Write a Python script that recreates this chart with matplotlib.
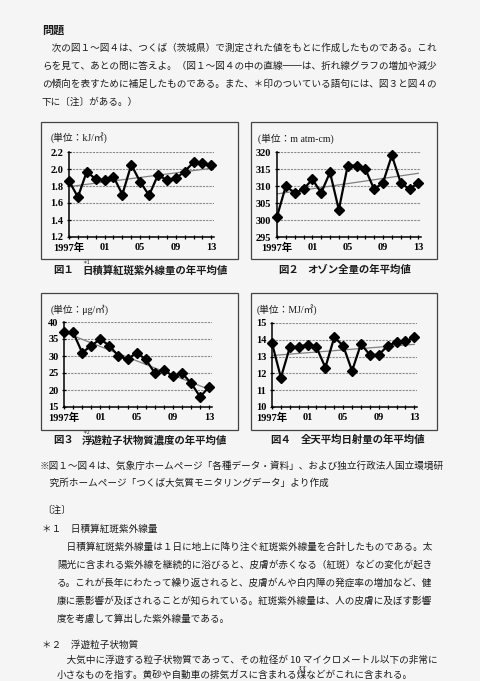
import numpy as np
import matplotlib
matplotlib.use("Agg")
import matplotlib.pyplot as plt
from matplotlib.patches import Rectangle

W, H = 480, 681
JP = ['Noto Sans CJK JP', 'DejaVu Sans']
SERIF = ['Liberation Serif', 'Noto Sans CJK JP']

years = list(range(1997, 2014))
year_labels = ['1997年', '01', '05', '09', '13']

# fig 1: erythemal UV (kJ/m2)
uv = [1.86, 1.67, 1.97, 1.88, 1.87, 1.91, 1.70, 2.05, 1.85, 1.69,
      1.93, 1.87, 1.89, 1.97, 2.08, 2.07, 2.05]
# fig 2: total ozone (m atm-cm)
ozone = [301, 310, 308, 309, 312, 308, 314, 303, 316, 316,
         315, 309, 311, 319, 311, 309, 311]
# fig 3: suspended particulate matter (ug/m3)
spm = [37, 37, 31, 33, 35, 33, 30, 29, 31, 29,
       25, 26, 24, 25, 22, 18, 21]
# fig 4: global solar radiation (MJ/m2)
solar = [13.8, 11.75, 13.55, 13.6, 13.7, 13.55, 12.35, 14.15, 13.65, 12.15,
         13.75, 13.1, 13.1, 13.65, 13.85, 13.9, 14.15]

intro = [
    '　次の図１～図４は、つくば（茨城県）で測定された値をもとに作成したものである。これ',
    'らを見て、あとの問に答えよ。（図１～図４の中の直線──は、折れ線グラフの増加や減少',
    'の傾向を表すために補足したものである。また、＊印のついている語句には、図３と図４の',
    '下に〔注〕がある。）',
]
source = [
    '※図１～図４は、気象庁ホームページ「各種データ・資料」、および独立行政法人国立環境研',
    '　究所ホームページ「つくば大気質モニタリングデータ」より作成',
]
note1 = [
    '　日積算紅斑紫外線量は１日に地上に降り注ぐ紅斑紫外線量を合計したものである。太',
    '陽光に含まれる紫外線を継続的に浴びると、皮膚が赤くなる（紅斑）などの変化が起き',
    'る。これが長年にわたって繰り返されると、皮膚がんや白内障の発症率の増加など、健',
    '康に悪影響が及ぼされることが知られている。紅斑紫外線量は、人の皮膚に及ぼす影響',
    '度を考慮して算出した紫外線量である。',
]
note2 = [
    '　大気中に浮遊する粒子状物質であって、その粒径が 10 マイクロメートル以下の非常に',
    '小さなものを指す。黄砂や自動車の排気ガスに含まれる煤などがこれに含まれる。',
]

fig = plt.figure(figsize=(W / 100, H / 100), dpi=100)
fig.patch.set_facecolor('#f5f5f5')


def put(x, y, s, size=6.9, family=JP, **kw):
    fig.text(x / W, 1 - y / H, s, fontsize=size, family=family,
             va='center', ha='left', color='#1a1a1a', **kw)


def box(x0, y0, x1, y1):
    fig.patches.append(Rectangle((x0 / W, 1 - y1 / H), (x1 - x0) / W, (y1 - y0) / H,
                                 transform=fig.transFigure, fill=False,
                                 edgecolor='#444444', lw=0.9))


def chart(l, r, t, b, vals, lo, hi, step, fmt, unit, ux, uy):
    ax = fig.add_axes([l / W, 1 - b / H, (r - l) / W, (b - t) / H])
    ax.set_facecolor('none')
    yr = np.array(years)
    k, c = np.polyfit(yr, vals, 1)
    ax.plot(yr, k * yr + c, color='#808080', lw=0.9, zorder=2)
    ax.plot(yr, vals, color='black', lw=1.6, marker='D', ms=4.6, zorder=3, clip_on=False)
    ax.set_xlim(1997, 2013.3)
    ax.set_ylim(lo, hi)
    yt = np.arange(lo, hi + step / 2, step)
    ax.set_yticks(yt)
    ax.set_yticklabels([fmt.format(v) for v in yt], family=SERIF, fontsize=7.5,
                       weight='bold')
    ax.set_xticks(years)
    lab = {1997: year_labels[0], 2001: year_labels[1], 2005: year_labels[2],
           2009: year_labels[3], 2013: year_labels[4]}
    ax.set_xticklabels([lab.get(y, '') for y in years], family=SERIF, fontsize=7.5,
                       weight='bold')
    for s in ['top', 'right']:
        ax.spines[s].set_visible(False)
    for s in ['left', 'bottom']:
        ax.spines[s].set_linewidth(1.1)
    ax.tick_params(direction='inout', length=3, width=0.9, pad=2.5)
    for v in yt[1:]:
        ax.axhline(v, color='#8a8a8a', lw=0.8, ls=(0, (2, 1)), zorder=1)
    put(ux, uy, unit, size=7, family=SERIF)
    return ax


put(42, 30, '問題', size=8, weight='bold')
for i, s in enumerate(intro):
    put(42, 48 + 18 * i, s)

box(41, 122, 238, 259)
box(251, 122, 437, 259)
box(41, 293, 238, 430)
box(251, 293, 437, 430)

chart(69, 214, 152, 237, uv, 1.2, 2.2, 0.2, '{:.1f}', '(単位：kJ/㎡)', 51, 139)
chart(277, 421, 152, 237, ozone, 295, 320, 5, '{:.0f}', '(単位：m atm-cm)', 258, 139)
chart(64, 212, 322, 407, spm, 15, 40, 5, '{:.0f}', '(単位：μg/㎥)', 51, 310)
chart(272, 417, 323, 407, solar, 10, 15, 1, '{:.0f}', '(単位：MJ/㎡)', 257, 310)

put(53, 270, '図１', size=7.5, weight='bold')
put(82, 270, '日積算紅斑紫外線量の年平均値', size=7.5, weight='bold')
put(82, 263, '＊1', size=3.5)
put(278, 270, '図２', size=7.5, weight='bold')
put(307, 270, 'オゾン全量の年平均値', size=7.5, weight='bold')
put(53, 440, '図３', size=7.5, weight='bold')
put(82, 440, '浮遊粒子状物質濃度の年平均値', size=7.5, weight='bold')
put(82, 433, '＊2', size=3.5)
put(270, 440, '図４', size=7.5, weight='bold')
put(301, 440, '全天平均日射量の年平均値', size=7.5, weight='bold')

for i, s in enumerate(source):
    put(40, 466 + 17 * i, s)
put(42, 510, '〔注〕')
put(42, 529, '＊１　日積算紅斑紫外線量')
for i, s in enumerate(note1):
    put(57, 547 + 18 * i, s)
put(42, 645, '＊２　浮遊粒子状物質')
for i, s in enumerate(note2):
    put(57, 660 + 15 * i, s)
put(297, 668, 'すす', size=3.5)

fig.savefig('out.png', dpi=100, facecolor=fig.get_facecolor())
